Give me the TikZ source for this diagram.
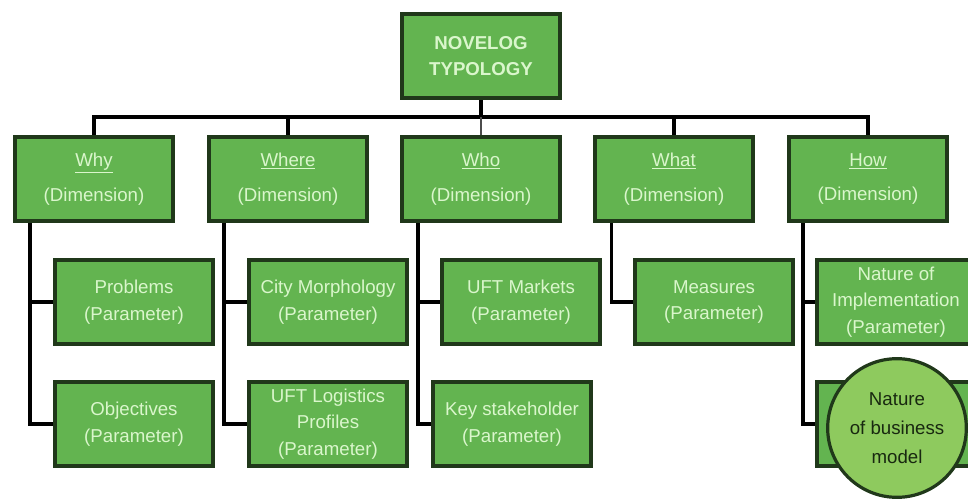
\documentclass[tikz,border=0pt]{standalone}
\usepackage{fontspec}
\setmainfont{Liberation Sans}
\usetikzlibrary{positioning}

\definecolor{boxgreen}{RGB}{99,180,80}
\definecolor{boxedge}{RGB}{32,56,26}
\definecolor{boxtext}{RGB}{218,246,204}
\definecolor{ballgreen}{RGB}{142,202,94}
\definecolor{balltext}{RGB}{24,40,16}

\begin{document}
\begin{tikzpicture}[
        x=0.75pt, y=-0.75pt,
        every node/.style={align=center, font=\fontsize{14}{20}\selectfont},
        box/.style={draw=boxedge, line width=3pt, fill=boxgreen, text=boxtext,
                    minimum width=118.5pt, minimum height=63pt, inner sep=2pt},
        topbox/.style={box, font=\bfseries\fontsize{14}{20}\selectfont},
        ball/.style={circle, draw=boxedge, line width=2.4pt, fill=ballgreen,
                     text=balltext, minimum size=104pt, inner sep=0pt,
                     font=\fontsize{14}{22}\selectfont},
        link/.style={line width=2.6pt, black}
    ]
        \useasboundingbox (0,0) rectangle (968,500);

        % Root of the typology
        \node[topbox] (top) at (481,56) {NOVELOG\\TYPOLOGY};

        % The five dimensions
        \node[box] (why)   at (94,179)  {\underline{Why}\\[6pt](Dimension)};
        \node[box] (where) at (288,179) {\underline{Where}\\[6pt](Dimension)};
        \node[box] (who)   at (481,179) {\underline{Who}\\[6pt](Dimension)};
        \node[box] (what)  at (674,179) {\underline{What}\\[6pt](Dimension)};
        \node[box] (how)   at (868,179) {\underline{How}\\[6pt](Dimension)};

        % Parameters, first row
        \node[box] (problems)   at (134,302) {Problems\\(Parameter)};
        \node[box] (morphology) at (328,302) {City Morphology\\(Parameter)};
        \node[box] (markets)    at (521,302) {UFT Markets\\(Parameter)};
        \node[box] (measures)   at (714,302) {Measures\\(Parameter)};
        \node[box] (implement)  at (896,302) {Nature of\\Implementation\\(Parameter)};

        % Parameters, second row
        \node[box] (objectives)  at (134,424) {Objectives\\(Parameter)};
        \node[box] (profiles)    at (328,424) {UFT Logistics\\Profiles\\(Parameter)};
        \node[box] (stakeholder) at (512,424) {Key stakeholder\\(Parameter)};
        \node[box] (business)    at (896,424) {};

        % Highlight over the last parameter
        \node[ball] (model) at (897,428) {Nature\\of business\\model};

        % Bus from the root to the dimensions
        \coordinate (bus) at (481,117);
        \draw[link] (top.south) -- (bus);
        \draw[link] (why.north) |- (bus) -| (how.north);
        \draw[link] (where.north) -- (where.north |- bus);
        \draw[link] (what.north) -- (what.north |- bus);
        \draw[line width=1pt, black!70] (who.north) -- (bus);

        % Stems down the left side of each dimension
        \coordinate (whyStem)   at ([xshift=12.75pt]why.south west);
        \coordinate (whereStem) at ([xshift=12.75pt]where.south west);
        \coordinate (whoStem)   at ([xshift=13.5pt]who.south west);
        \coordinate (whatStem)  at ([xshift=14pt]what.south west);
        \coordinate (howStem)   at ([xshift=12pt]how.south west);

        \draw[link] (whyStem) |- (problems.west);
        \draw[link] (whyStem) |- (objectives.west);
        \draw[link] (whereStem) |- (morphology.west);
        \draw[link] (whereStem) |- (profiles.west);
        \draw[link] (whoStem) |- (markets.west);
        \draw[link] (whoStem) |- (stakeholder.west);
        \draw[link] (whatStem) |- (measures.west);
        \draw[link] (howStem) |- (implement.west);
        \draw[link] (howStem) |- (business.west);
    \end{tikzpicture}
\end{document}
